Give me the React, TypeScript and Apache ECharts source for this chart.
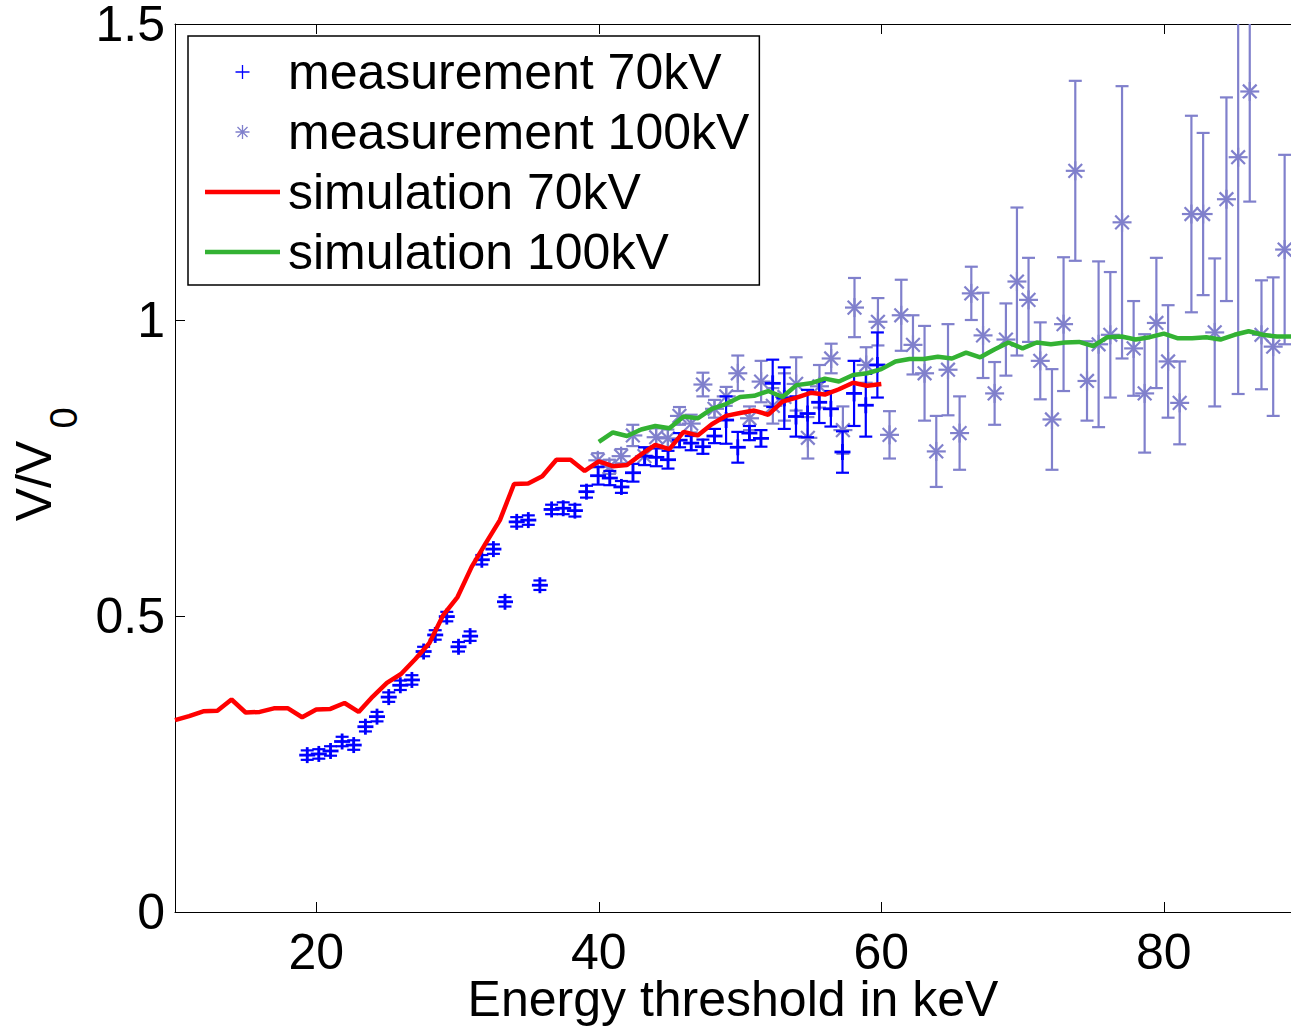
import React, { useEffect, useRef } from 'react';
import * as echarts from 'echarts';

const FONT = '"Liberation Sans", Arial, Helvetica, sans-serif';

const xTicks = [20, 40, 60, 80];
const yTicks = [0, 0.5, 1, 1.5];

const legendNames = ['measurement 70kV', 'measurement 100kV', 'simulation 70kV', 'simulation 100kV'];

// measurement 70 kV: threshold (keV), V/V0, error half-width
const meas70X = [19.36, 20.18, 21.01, 21.83, 22.65, 23.48, 24.30, 25.13, 25.95, 26.77,
  27.60, 28.42, 29.24, 30.07, 30.89, 31.72, 32.54, 33.36, 34.19, 35.01,
  35.83, 36.66, 37.48, 38.31, 39.13, 39.95, 40.78, 41.60, 42.42, 43.25,
  44.07, 44.90, 45.72, 46.54, 47.37, 48.19, 49.01, 49.84, 50.66, 51.48,
  52.31, 53.13, 53.96, 54.78, 55.60, 56.43, 57.25, 58.07, 58.90, 59.72];
const meas70Y = [0.265, 0.267, 0.272, 0.288, 0.282, 0.313, 0.330, 0.363, 0.383, 0.392,
  0.440, 0.468, 0.499, 0.448, 0.466, 0.595, 0.613, 0.524, 0.659, 0.662,
  0.552, 0.680, 0.682, 0.678, 0.710, 0.737, 0.733, 0.718, 0.742, 0.770,
  0.768, 0.764, 0.797, 0.792, 0.786, 0.804, 0.831, 0.785, 0.809, 0.800,
  0.893, 0.868, 0.837, 0.842, 0.861, 0.850, 0.777, 0.876, 0.856, 0.924];
const meas70Err = [0.008, 0.008, 0.008, 0.008, 0.008, 0.008, 0.008, 0.008, 0.008, 0.008,
  0.008, 0.008, 0.008, 0.008, 0.008, 0.008, 0.008, 0.008, 0.008, 0.008,
  0.008, 0.008, 0.010, 0.010, 0.010, 0.015, 0.012, 0.010, 0.015, 0.015,
  0.015, 0.015, 0.012, 0.012, 0.012, 0.012, 0.040, 0.026, 0.012, 0.014,
  0.040, 0.052, 0.034, 0.040, 0.035, 0.030, 0.035, 0.055, 0.053, 0.055];

// measurement 100 kV
const meas100X = [39.93, 40.75, 41.58, 42.41, 43.23, 44.06, 44.89, 45.71, 46.54, 47.37,
  48.19, 49.02, 49.84, 50.67, 51.49, 52.32, 53.14, 53.97, 54.80, 55.62,
  56.45, 57.28, 58.10, 58.93, 59.76, 60.58, 61.41, 62.24, 63.06, 63.89,
  64.72, 65.54, 66.37, 67.20, 68.02, 68.82, 69.60, 70.42, 71.25, 72.08,
  72.90, 73.73, 74.56, 75.38, 76.21, 77.04, 77.86, 78.64, 79.47, 80.30,
  81.12, 81.95, 82.78, 83.60, 84.43, 85.26, 86.08, 86.91, 87.74, 88.55];
const meas100Y = [0.763, 0.752, 0.770, 0.805, 0.770, 0.802, 0.800, 0.838, 0.825, 0.891,
  0.850, 0.871, 0.910, 0.834, 0.896, 0.855, 0.870, 0.892, 0.801, 0.888,
  0.935, 0.814, 1.021, 0.924, 0.997, 0.806, 1.008, 0.958, 0.910, 0.778,
  0.916, 0.809, 1.045, 0.974, 0.876, 0.967, 1.065, 1.034, 0.931, 0.832,
  0.993, 1.252, 0.897, 0.959, 0.975, 1.165, 0.952, 0.876, 0.995, 0.930,
  0.860, 1.179, 1.179, 0.979, 1.204, 1.275, 1.386, 0.975, 0.955, 1.119];
const meas100Err = [0.012, 0.012, 0.012, 0.018, 0.015, 0.015, 0.015, 0.015, 0.015, 0.020,
  0.015, 0.016, 0.030, 0.020, 0.035, 0.030, 0.040, 0.045, 0.035, 0.036,
  0.025, 0.040, 0.050, 0.030, 0.040, 0.040, 0.060, 0.050, 0.080, 0.060,
  0.077, 0.062, 0.045, 0.072, 0.053, 0.061, 0.125, 0.071, 0.065, 0.085,
  0.113, 0.152, 0.067, 0.140, 0.106, 0.230, 0.080, 0.100, 0.110, 0.095,
  0.070, 0.166, 0.137, 0.125, 0.172, 0.400, 0.186, 0.092, 0.117, 0.160];

// simulation 70 kV
const sim70X = [10, 11, 12, 13, 14, 15, 16, 17, 18, 19, 20, 21, 22, 23, 24, 25, 26, 27, 28, 29,
  30, 31, 32, 33, 34, 35, 36, 37, 38, 39, 40, 41, 42, 43, 44, 45, 46, 47, 48, 49,
  50, 51, 52, 53, 54, 55, 56, 57, 58, 59, 60];
const sim70Y = [0.324, 0.331, 0.339, 0.340, 0.359, 0.337, 0.338, 0.344, 0.344, 0.329,
  0.342, 0.343, 0.353, 0.338, 0.364, 0.387, 0.402, 0.427, 0.454, 0.502,
  0.532, 0.583, 0.623, 0.662, 0.723, 0.724, 0.736, 0.764, 0.764, 0.745,
  0.761, 0.753, 0.755, 0.773, 0.789, 0.782, 0.811, 0.805, 0.824, 0.838,
  0.843, 0.847, 0.840, 0.862, 0.869, 0.877, 0.874, 0.883, 0.894, 0.889, 0.892];

// simulation 100 kV
const sim100X = [40, 41, 42, 43, 44, 45, 46, 47, 48, 49, 50, 51, 52, 53, 54, 55, 56, 57, 58, 59,
  60, 61, 62, 63, 64, 65, 66, 67, 68, 69, 70, 71, 72, 73, 74, 75, 76, 77, 78, 79,
  80, 81, 82, 83, 84, 85, 86, 87, 88, 89];
const sim100Y = [0.794, 0.810, 0.804, 0.815, 0.821, 0.817, 0.837, 0.834, 0.850, 0.858,
  0.870, 0.872, 0.880, 0.870, 0.890, 0.893, 0.901, 0.896, 0.907, 0.910,
  0.917, 0.930, 0.934, 0.934, 0.938, 0.935, 0.945, 0.937, 0.950, 0.962,
  0.952, 0.962, 0.959, 0.962, 0.963, 0.956, 0.971, 0.972, 0.967, 0.971,
  0.977, 0.969, 0.969, 0.971, 0.967, 0.975, 0.981, 0.975, 0.972, 0.972];

const BLUE = '#0000ff';
const LAVENDER = '#8080cc';
const RED = '#ff0000';
const GREEN = '#33b233';

const PLUS_ICON = 'path://M0,7L14,7M7,0L7,14';
const STAR_ICON = 'path://M0,7L14,7M7,0L7,14M2,2L12,12M12,2L2,12';
const LINE_ICON = 'path://M0,0L75,0L75,4.5L0,4.5Z';

function makeRender(marker: 'plus' | 'star', color: string) {
  return (_params: any, api: any) => {
    const x = api.value(0);
    const y = api.value(1);
    const e = api.value(2);
    const c = api.coord([x, y]);
    const t = api.coord([x, y + e]);
    const b = api.coord([x, y - e]);
    const bar = { stroke: color, lineWidth: 2.2, fill: 'none' };
    const mk = { stroke: color, lineWidth: marker === 'plus' ? 2.8 : 2.2, fill: 'none' };
    const cap = 6.5;
    const ch: any[] = [
      { type: 'line', shape: { x1: c[0], y1: t[1], x2: c[0], y2: b[1] }, style: bar },
      { type: 'line', shape: { x1: c[0] - cap, y1: t[1], x2: c[0] + cap, y2: t[1] }, style: bar },
      { type: 'line', shape: { x1: c[0] - cap, y1: b[1], x2: c[0] + cap, y2: b[1] }, style: bar },
    ];
    const r = marker === 'plus' ? 8 : 9.5;
    ch.push({ type: 'line', shape: { x1: c[0] - r, y1: c[1], x2: c[0] + r, y2: c[1] }, style: mk });
    ch.push({ type: 'line', shape: { x1: c[0], y1: c[1] - r, x2: c[0], y2: c[1] + r }, style: mk });
    if (marker === 'star') {
      const d = r * 0.72;
      ch.push({ type: 'line', shape: { x1: c[0] - d, y1: c[1] - d, x2: c[0] + d, y2: c[1] + d }, style: mk });
      ch.push({ type: 'line', shape: { x1: c[0] - d, y1: c[1] + d, x2: c[0] + d, y2: c[1] - d }, style: mk });
    }
    return { type: 'group', children: ch };
  };
}

export default function App() {
  const ref = useRef<HTMLDivElement>(null);
  useEffect(() => {
    if (!ref.current) return;
    const chart = echarts.init(ref.current, null, { renderer: 'svg' });
    const axisLine = { show: true, lineStyle: { color: '#000', width: 1 } };
    const option: any = {
      animation: false,
      backgroundColor: '#fff',
      textStyle: { fontFamily: FONT },
      grid: { left: 175, right: 0, top: 24, bottom: 118, containLabel: false, outerBoundsMode: 'none' },
      graphic: [
        {
          type: 'text', x: 34, y: 481, rotation: Math.PI / 2, z: 10,
          style: { text: 'V/V', fontSize: 50, lineHeight: 50, fontFamily: FONT, fill: '#000', align: 'center', verticalAlign: 'middle' },
        },
        {
          type: 'text', x: 64, y: 418, rotation: Math.PI / 2, z: 10,
          style: { text: '0', fontSize: 38, lineHeight: 38, fontFamily: FONT, fill: '#000', align: 'center', verticalAlign: 'middle' },
        },
      ],
      legend: {
        orient: 'vertical',
        left: 188,
        top: 36,
        itemWidth: 75,
        itemHeight: 14,
        itemGap: 10,
        padding: [11, 10, 8, 17],
        borderColor: '#000',
        borderWidth: 1.5,
        backgroundColor: '#fff',
        symbolKeepAspect: true,
        selectedMode: false,
        textStyle: { fontSize: 50, lineHeight: 50, fontFamily: FONT, color: '#000', padding: [0, 0, 0, 3] },
        data: [
          { name: legendNames[0], icon: PLUS_ICON, itemStyle: { color: 'none', borderColor: BLUE, borderWidth: 1.3 } },
          { name: legendNames[1], icon: STAR_ICON, itemStyle: { color: 'none', borderColor: LAVENDER, borderWidth: 1.3 } },
          { name: legendNames[2], icon: LINE_ICON, itemStyle: { color: RED, borderWidth: 0 } },
          { name: legendNames[3], icon: LINE_ICON, itemStyle: { color: GREEN, borderWidth: 0 } },
        ],
      },
      xAxis: [
        {
          type: 'value', min: 10, max: 89, position: 'bottom',
          name: 'Energy threshold in keV', nameLocation: 'middle', nameGap: 64, nameMoveOverlap: false,
          nameTextStyle: { fontSize: 50, lineHeight: 46, color: '#000', fontFamily: FONT },
          axisLine,
          axisTick: { show: true, inside: true, length: 10, customValues: xTicks, lineStyle: { color: '#000' } },
          axisLabel: { customValues: xTicks, fontSize: 50, lineHeight: 40, margin: 20, color: '#000', fontFamily: FONT },
          splitLine: { show: false },
        },
        {
          type: 'value', min: 10, max: 89, position: 'top',
          axisLine,
          axisTick: { show: true, inside: true, length: 10, customValues: xTicks, lineStyle: { color: '#000' } },
          axisLabel: { show: false },
          splitLine: { show: false },
        },
      ],
      yAxis: {
        type: 'value', min: yTicks[0], max: yTicks[yTicks.length - 1], interval: 0.5,
        axisLine,
        axisTick: { show: true, inside: true, length: 10, lineStyle: { color: '#000' } },
        axisLabel: { fontSize: 50, lineHeight: 40, margin: 10, color: '#000', fontFamily: FONT },
        splitLine: { show: false },
      },
      series: [
        {
          type: 'custom', name: legendNames[0], clip: true, z: 3,
          itemStyle: { color: BLUE },
          renderItem: makeRender('plus', BLUE),
          encode: { x: 0, y: 1 },
          data: meas70X.map((x, i) => [x, meas70Y[i], meas70Err[i]]),
        },
        {
          type: 'custom', name: legendNames[1], clip: true, z: 2,
          itemStyle: { color: LAVENDER },
          renderItem: makeRender('star', LAVENDER),
          encode: { x: 0, y: 1 },
          data: meas100X.map((x, i) => [x, meas100Y[i], meas100Err[i]]),
        },
        {
          type: 'line', name: legendNames[2], symbol: 'none', clip: true, z: 4,
          itemStyle: { color: RED },
          lineStyle: { color: RED, width: 4.5 },
          data: sim70X.map((x, i) => [x, sim70Y[i]]),
        },
        {
          type: 'line', name: legendNames[3], symbol: 'none', clip: true, z: 4,
          itemStyle: { color: GREEN },
          lineStyle: { color: GREEN, width: 4.5 },
          data: sim100X.map((x, i) => [x, sim100Y[i]]),
        },
      ],
    };
    chart.setOption(option);
    return () => chart.dispose();
  }, []);
  return (
    <div
      ref={ref}
      style={{ position: 'absolute', left: 0, top: 0, width: 1291, height: 1030, background: '#fff' }}
    />
  );
}
